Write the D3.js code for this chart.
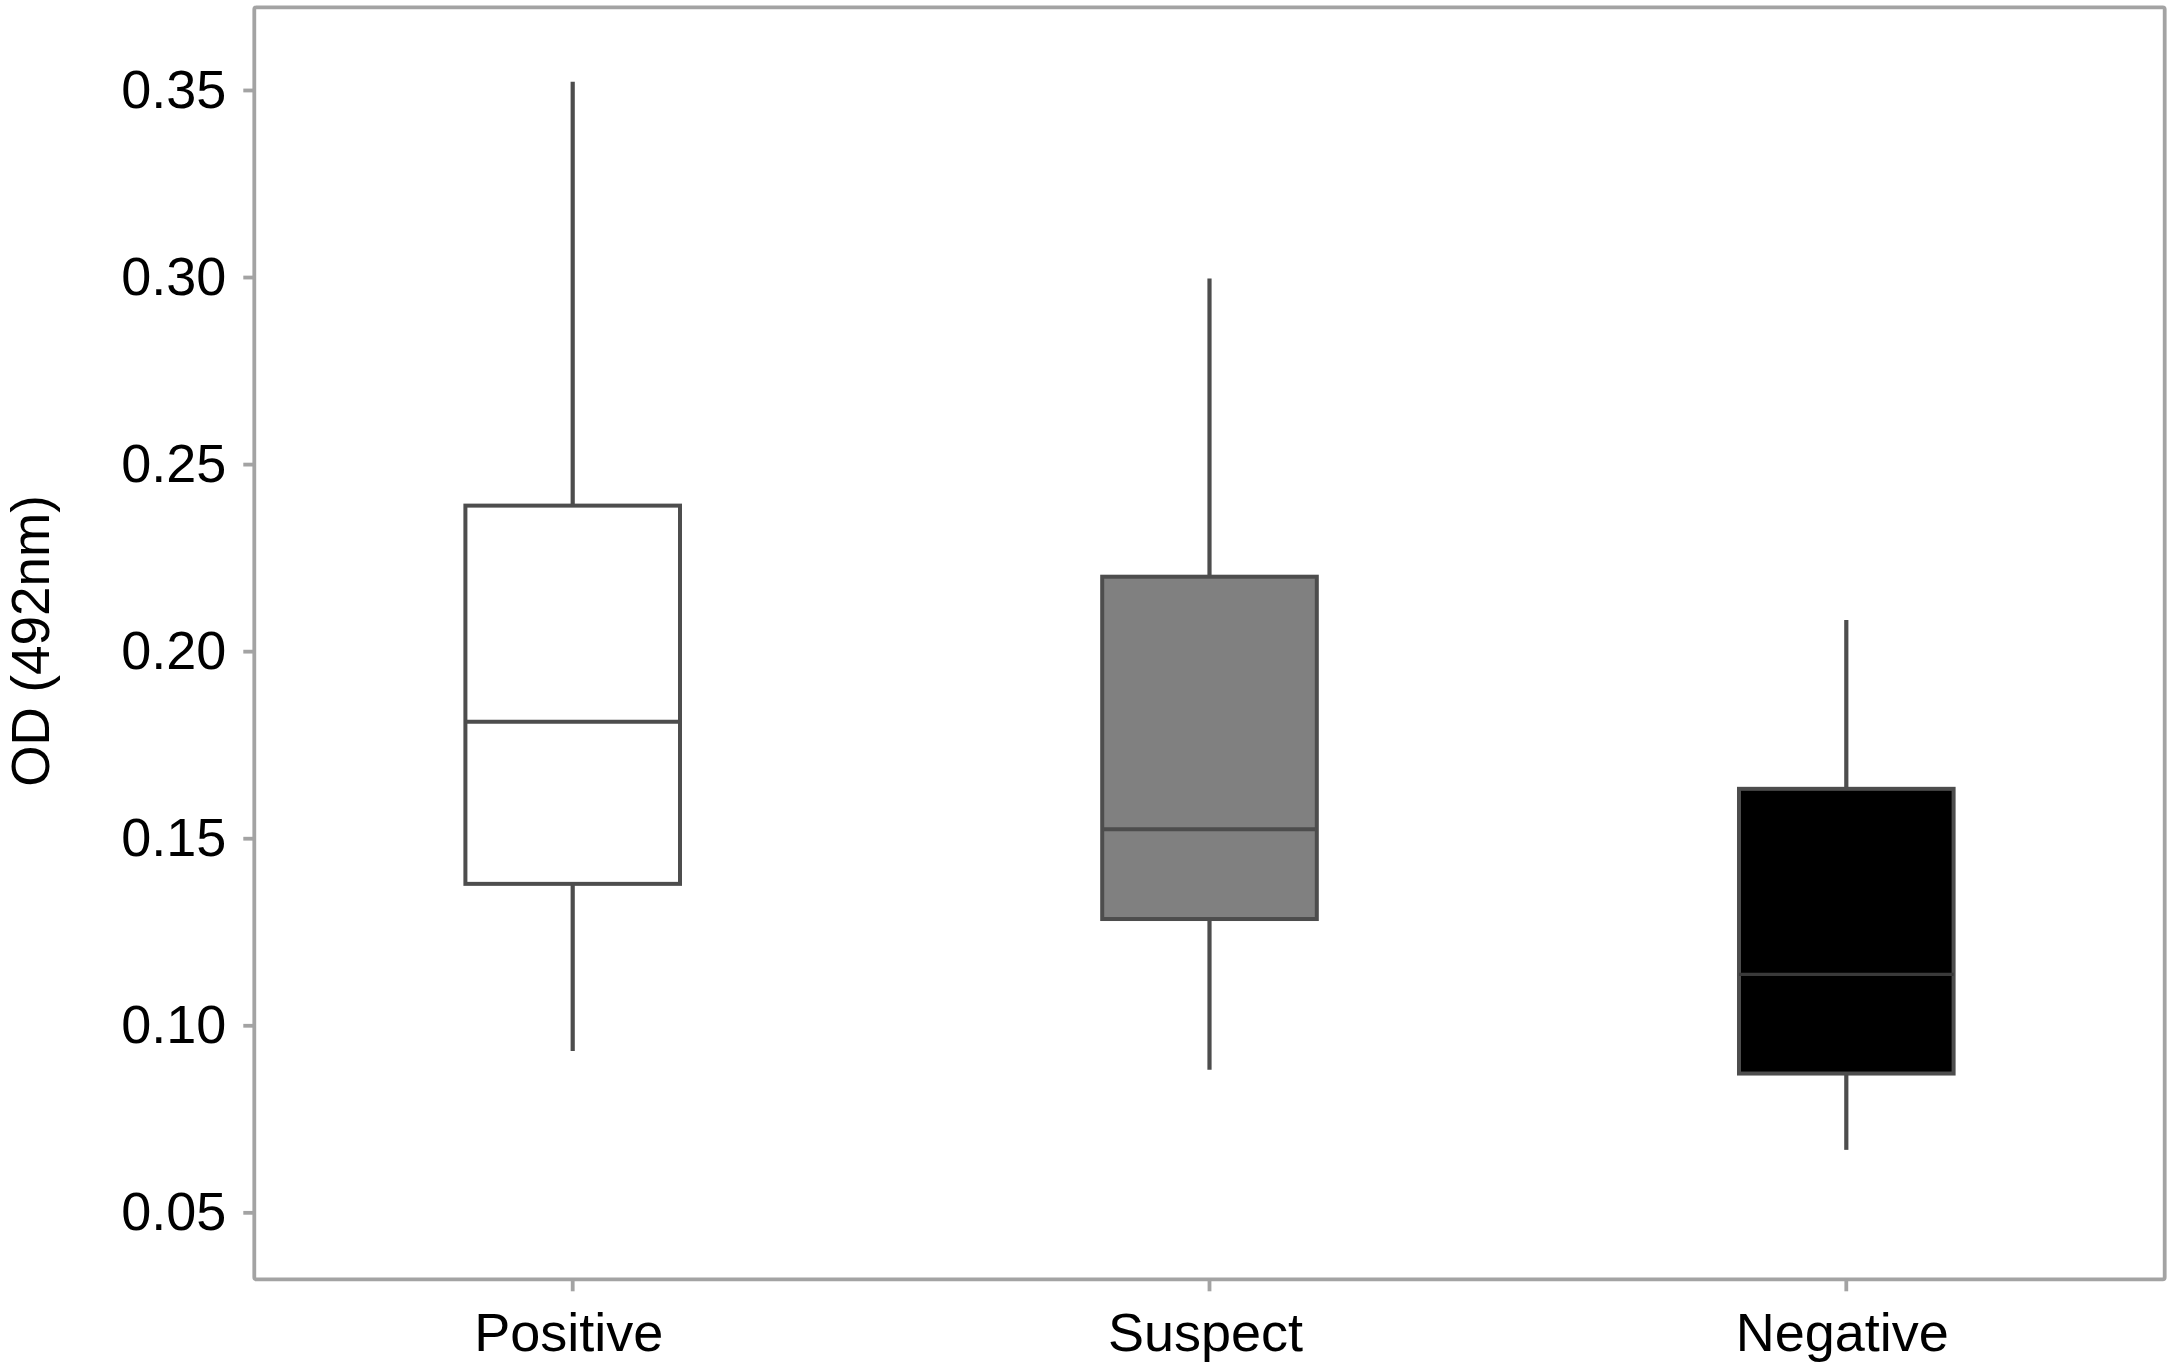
<!DOCTYPE html>
<html>
<head>
<meta charset="utf-8">
<script src="https://cdn.jsdelivr.net/npm/d3@7"></script>
<style>
  html, body { margin: 0; padding: 0; background: #ffffff; }
  svg { display: block; }
  text { font-family: "Liberation Sans", Arial, Helvetica, sans-serif; fill: #000; }
</style>
</head>
<body>
<svg id="chart" width="2173" height="1364"></svg>
<script>
// ---- data ----
const categories = ["Positive", "Suspect", "Negative"];
const whiskerLow  = [0.0931, 0.0881, 0.0667];
const q1          = [0.1378, 0.1284, 0.0871];
const median      = [0.1811, 0.1524, 0.1136];
const q3          = [0.2389, 0.2199, 0.1632];
const whiskerHigh = [0.3522, 0.2996, 0.2083];
const boxFills    = ["#ffffff", "#808080", "#000000"];
const yTickValues = [0.05, 0.10, 0.15, 0.20, 0.25, 0.30, 0.35];
const yTitle = "OD (492nm)";
const yDomain = [0.0321, 0.3721];

// ---- layout ----
const W = 2173, H = 1364;
const panel = { left: 254.3, right: 2164.7, top: 7.3, bottom: 1279.3 };
const fontSize = 54;
const axisColor = "#a3a3a3";
const lineColor = "#4d4d4d";

const svg = d3.select("#chart");

const x = d3.scaleBand().domain(categories).range([panel.left, panel.right]).padding(0);
const y = d3.scaleLinear().domain(yDomain).range([panel.bottom, panel.top]);
const boxW = x.bandwidth() * 0.337;

// panel border
svg.append("rect")
  .attr("x", panel.left).attr("y", y(yDomain[1]))
  .attr("width", panel.right - panel.left)
  .attr("height", y(yDomain[0]) - y(yDomain[1]))
  .attr("rx", 2)
  .attr("fill", "none").attr("stroke", axisColor).attr("stroke-width", 3.8);

// y axis
const yAxis = d3.axisLeft(y).tickValues(yTickValues).tickFormat(d3.format(".2f"))
  .tickSize(11).tickPadding(17);
const gy = svg.append("g").attr("transform", `translate(${panel.left},0)`).call(yAxis);
gy.select(".domain").remove();
gy.selectAll(".tick line").attr("stroke", axisColor).attr("stroke-width", 3.8);
gy.selectAll(".tick text").attr("font-size", fontSize).attr("font-family", "Liberation Sans, Arial, sans-serif").attr("fill", "#000");

// x axis
const xAxis = d3.axisBottom(x).tickSize(12).tickPadding(21);
const gx = svg.append("g").attr("transform", `translate(0,${panel.bottom})`).call(xAxis);
gx.select(".domain").remove();
gx.selectAll(".tick line").attr("stroke", axisColor).attr("stroke-width", 3.8);
gx.selectAll(".tick text").attr("font-size", fontSize).attr("dx", -4)
  .attr("font-family", "Liberation Sans, Arial, sans-serif").attr("fill", "#000");

// y title
svg.append("text")
  .attr("transform", `translate(49,641) rotate(-90)`)
  .attr("text-anchor", "middle")
  .attr("font-size", 53)
  .text(yTitle);

// boxes
const rows = categories.map((c, i) => ({
  c, lo: whiskerLow[i], q1: q1[i], med: median[i], q3: q3[i], hi: whiskerHigh[i], fill: boxFills[i]
}));

const g = svg.append("g");
const cx = d => x(d.c) + x.bandwidth() / 2;

g.selectAll("line.wu").data(rows).join("line")
  .attr("x1", cx).attr("x2", cx)
  .attr("y1", d => y(d.hi)).attr("y2", d => y(d.q3))
  .attr("stroke", lineColor).attr("stroke-width", 4.2);
g.selectAll("line.wl").data(rows).join("line")
  .attr("x1", cx).attr("x2", cx)
  .attr("y1", d => y(d.q1)).attr("y2", d => y(d.lo))
  .attr("stroke", lineColor).attr("stroke-width", 4.2);

g.selectAll("rect.box").data(rows).join("rect")
  .attr("x", d => cx(d) - boxW / 2)
  .attr("y", d => y(d.q3))
  .attr("width", boxW)
  .attr("height", d => y(d.q1) - y(d.q3))
  .attr("fill", d => d.fill)
  .attr("stroke", lineColor).attr("stroke-width", 4);

g.selectAll("line.med").data(rows).join("line")
  .attr("x1", d => cx(d) - boxW / 2).attr("x2", d => cx(d) + boxW / 2)
  .attr("y1", d => y(d.med)).attr("y2", d => y(d.med))
  .attr("stroke", d => d.fill === "#000000" ? "#3a3a3a" : lineColor)
  .attr("stroke-width", d => d.fill === "#000000" ? 3.2 : 4);
</script>
</body>
</html>
